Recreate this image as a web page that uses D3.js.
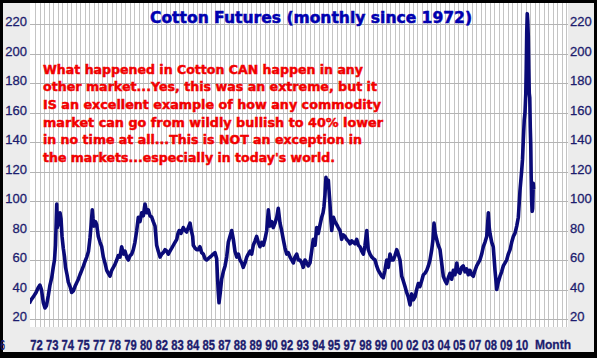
<!DOCTYPE html>
<html>
<head>
<meta charset="utf-8">
<script src="https://cdnjs.cloudflare.com/ajax/libs/d3/7.8.5/d3.min.js"></script>
<style>
  html, body { margin: 0; padding: 0; background: #000; }
  svg { display: block; }
</style>
</head>
<body>
<script>
// cotton futures, cents/lb: [decimal year, price]
const cotton = [
  [1971.44,30.6],[1971.58,33],[1971.76,35],[1971.98,38],[1972.14,41],[1972.29,43],[1972.41,40],[1972.56,31],
  [1972.69,27.5],[1972.81,29],[1972.96,36],[1973.09,43],[1973.23,48],[1973.35,55],[1973.45,60],[1973.53,70],
  [1973.63,98],[1973.67,82],[1973.75,90],[1973.82,84],[1973.89,92],[1973.97,88],[1974.05,76],[1974.15,68],
  [1974.25,62],[1974.33,55],[1974.45,50],[1974.55,45],[1974.69,42],[1974.82,38],[1974.95,39],[1975.08,42],
  [1975.24,45],[1975.35,47],[1975.48,50],[1975.62,53],[1975.76,56],[1975.88,59],[1976.02,62],[1976.16,66],
  [1976.28,75],[1976.37,84],[1976.46,94],[1976.52,88],[1976.60,83],[1976.72,86],[1976.81,84],[1976.94,76],
  [1977.08,72],[1977.21,69],[1977.34,62],[1977.47,58],[1977.61,53],[1977.74,51],[1977.87,49],[1978.01,53],
  [1978.14,55],[1978.27,57],[1978.41,60],[1978.53,63],[1978.67,62],
  [1978.80,69],[1978.95,64],[1979.07,66],[1979.20,62],[1979.33,60],[1979.47,63],[1979.60,64],[1979.73,67],
  [1979.86,72],[1980.00,80],[1980.13,89],[1980.26,86],[1980.40,92],[1980.53,90],[1980.66,98],[1980.80,92],
  [1980.92,94],[1981.06,90],[1981.20,89],[1981.32,86],[1981.46,83],[1981.59,70],[1981.72,66],[1981.86,62],
  [1981.99,64],[1982.12,65],[1982.26,67],[1982.39,66],[1982.52,64],[1982.65,66],[1982.79,68],[1982.92,70],
  [1983.05,72],[1983.19,74],[1983.29,78],[1983.39,80],[1983.53,78],[1983.71,82],[1983.85,80],[1983.98,79],
  [1984.11,82],[1984.25,85],[1984.35,80],[1984.46,76],[1984.51,70],[1984.65,68],[1984.78,67],[1984.91,67],
  [1985.04,69],[1985.18,65],[1985.31,64],[1985.44,61],[1985.58,60],[1985.71,61],[1985.84,62],[1985.98,63],
  [1986.10,64],[1986.24,65],[1986.37,61],[1986.44,48],[1986.50,38],[1986.56,31],
  [1986.66,38],[1986.77,47],[1986.90,52],[1987.04,56],[1987.17,62],[1987.30,72],[1987.43,76],[1987.57,80],
  [1987.70,74],[1987.83,66],[1987.97,62],[1988.10,64],[1988.23,60],[1988.37,58],[1988.49,55],[1988.63,58],
  [1988.77,62],[1988.89,64],[1989.03,66],[1989.16,64],[1989.29,70],[1989.43,73],[1989.56,76],[1989.69,72],
  [1989.82,69],[1989.96,72],[1990.09,70],[1990.22,74],[1990.36,80],[1990.49,94],[1990.62,83],[1990.76,86],
  [1990.88,82],[1991.02,85],[1991.16,89],[1991.28,95],[1991.42,85],[1991.55,80],[1991.68,74],[1991.82,68],
  [1991.95,64],[1992.08,65],[1992.22,62],[1992.35,60],[1992.48,58],[1992.61,62],[1992.75,64],[1992.88,60],
  [1993.01,60],[1993.15,58],[1993.27,55],[1993.41,60],[1993.55,58],[1993.67,56],[1993.81,58],[1993.94,66],
  [1994.07,74],[1994.21,70],[1994.34,82],[1994.47,78],[1994.61,84],[1994.74,89],[1994.85,92],[1994.92,96],
  [1995.00,104],[1995.08,116],[1995.16,110],[1995.27,114],[1995.35,104],[1995.40,98],[1995.48,86],[1995.54,80],
  [1995.67,89],[1995.80,86],[1995.94,84],[1996.06,82],[1996.20,80],[1996.33,74],[1996.46,77],[1996.60,76],
  [1996.73,74],[1996.86,73],[1997.00,71],[1997.13,73],[1997.26,72],[1997.39,71],[1997.53,74],[1997.66,70],
  [1997.79,69],[1997.93,66],[1998.06,64],[1998.19,70],[1998.33,80],[1998.45,67],[1998.59,64],[1998.73,62],
  [1998.85,61],[1998.99,60],[1999.12,56],[1999.25,53],[1999.39,51],[1999.52,49],[1999.65,48],[1999.78,53],
  [1999.92,60],[2000.05,55],[2000.18,64],[2000.32,60],[2000.45,60],[2000.58,63],[2000.72,67],[2000.84,64],
  [2000.98,60],
  [2001.12,49],[2001.24,46],[2001.38,42],[2001.51,38],[2001.64,35],[2001.78,29.5],[2001.91,37],[2002.04,33],
  [2002.18,35],[2002.31,40],[2002.44,44],[2002.57,42],[2002.71,46],[2002.84,50],[2002.97,51],[2003.11,53],
  [2003.24,56],[2003.37,60],[2003.51,67],[2003.61,74],[2003.69,85],[2003.79,78],[2003.90,74],[2004.03,70],
  [2004.17,67],[2004.30,58],[2004.43,49],[2004.57,46],[2004.70,44],[2004.83,48],[2004.96,51],[2005.10,47],
  [2005.23,53],[2005.36,50],[2005.50,58],[2005.63,52],[2005.76,51],[2005.90,55],[2006.02,56],[2006.16,52],
  [2006.29,54],[2006.42,50],[2006.56,53],[2006.69,50],[2006.82,49],[2006.96,53],[2007.09,56],[2007.22,58],
  [2007.35,60],[2007.49,64],[2007.62,69],[2007.75,72],[2007.89,76],[2008.02,92],[2008.09,82],[2008.15,78],
  [2008.29,72],[2008.41,69],[2008.49,60],[2008.55,53],[2008.69,40],[2008.81,45],[2008.95,49],[2009.08,52],
  [2009.21,56],[2009.35,58],[2009.48,60],[2009.61,64],[2009.75,67],[2009.88,72],[2010.01,76],[2010.14,78],
  [2010.28,83],[2010.41,89],[2010.49,100],[2010.54,107],[2010.62,115],[2010.68,121],[2010.74,128],[2010.80,140],
  [2010.88,155],[2010.94,160],[2011.00,172],[2011.04,190],[2011.08,215],[2011.12,227],[2011.16,222],[2011.20,212],
  [2011.24,190],[2011.28,173],[2011.32,170],[2011.36,150],[2011.40,138],[2011.43,118],[2011.47,100],[2011.51,93],
  [2011.55,95],[2011.60,112],[2011.63,108]
];

const yTicks = [20, 40, 60, 80, 100, 120, 140, 160, 180, 200, 220];

const xLabels = ['72','73','74','75','77','78','79','80','82','83','84','85','87','88','89','90',
                 '92','93','94','95','97','98','99','00','02','03','04','05','07','08','09','10'];

const title = 'Cotton Futures (monthly since 1972)';

const notes = [
  'What happened in Cotton CAN happen in any',
  'other market...Yes, this was an extreme, but it',
  'IS an excellent example of how any commodity',
  'market can go from wildly bullish to 40% lower',
  'in no time at all...This is NOT an exception in',
  "the markets...especially in today's world."
];
const noteWidths = [320, 334, 338, 340, 319, 292];

const width = 597, height = 358;
const plot = {left: 30, right: 568, top: 3, bottom: 327};
const navy = '#1c1c6e';

const x = d3.scaleLinear().domain([1972, 2011]).range([36.3, 525.75]);
const y = d3.scaleLinear().domain([40, 220]).range([289.5, 24]);
const xl = d3.scalePoint().domain(xLabels).range([36.5, 522]);
const grid = d3.scaleLinear().domain([0, 118]).range([35, 566]); // vertical grid, one line per step

const svg = d3.select('body').append('svg')
  .attr('width', width)
  .attr('height', height);

svg.append('rect').attr('width', width).attr('height', height).attr('fill', '#000');
svg.append('rect')
  .attr('x', 3).attr('y', 3)
  .attr('width', 591).attr('height', 349)
  .attr('fill', '#ececec');
svg.append('rect')
  .attr('x', plot.left).attr('y', plot.top)
  .attr('width', plot.right - plot.left).attr('height', plot.bottom - plot.top)
  .attr('fill', '#fff');

svg.append('clipPath').attr('id', 'plotclip')
  .append('rect')
  .attr('x', plot.left).attr('y', plot.top)
  .attr('width', plot.right - plot.left).attr('height', plot.bottom - plot.top);

// grid
svg.append('g')
  .selectAll('line')
  .data(d3.range(119))
  .join('line')
  .attr('x1', d => Math.round(grid(d)) + 0.5)
  .attr('x2', d => Math.round(grid(d)) + 0.5)
  .attr('y1', plot.top)
  .attr('y2', plot.bottom)
  .attr('stroke', '#c4c4c4');

svg.append('g')
  .selectAll('line')
  .data(yTicks)
  .join('line')
  .attr('x1', plot.left)
  .attr('x2', plot.right)
  .attr('y1', d => Math.round(y(d)) + 0.5)
  .attr('y2', d => Math.round(y(d)) + 0.5)
  .attr('stroke', '#b4b4b4');

// red annotation, sits over the grid
svg.append('g')
  .selectAll('text')
  .data(notes)
  .join('text')
  .attr('x', 43)
  .attr('y', (d, i) => 73.5 + i * 17.7)
  .attr('textLength', (d, i) => noteWidths[i])
  .attr('lengthAdjust', 'spacingAndGlyphs')
  .attr('font-family', 'DejaVu Sans, Verdana, sans-serif')
  .attr('font-weight', 'bold')
  .attr('font-size', 11.5)
  .attr('fill', '#f20000')
  .attr('stroke', '#f20000')
  .attr('stroke-width', 0.45)
  .text(d => d);

// price line
let line = d3.line()
  .x(d => x(d[0]))
  .y(d => y(d[1]));

svg.append('path')
  .datum(cotton)
  .attr('clip-path', 'url(#plotclip)')
  .attr('d', line)
  .attr('fill', 'none')
  .attr('stroke', '#0a0a78')
  .attr('stroke-width', 3.6)
  .attr('stroke-linejoin', 'round');

// title
svg.append('text')
  .attr('x', 150)
  .attr('y', 22.5)
  .attr('textLength', 322)
  .attr('lengthAdjust', 'spacingAndGlyphs')
  .attr('font-family', 'DejaVu Sans, Verdana, sans-serif')
  .attr('font-weight', 'bold')
  .attr('font-size', 15)
  .attr('fill', '#0000b0')
  .attr('stroke', '#0000b0')
  .attr('stroke-width', 0.5)
  .text(title);

// value axes on both sides
function styleAxis(g) {
  g.select('.domain').remove();
  g.attr('font-family', 'Liberation Sans, Arial, sans-serif')
   .attr('font-size', 13);
  g.selectAll('text')
   .attr('fill', navy)
   .attr('stroke', navy)
   .attr('stroke-width', 0.3);
}

svg.append('g')
  .attr('transform', 'translate(27,-2.5)')
  .call(d3.axisLeft(y).tickValues(yTicks).tickSize(0).tickPadding(0))
  .call(styleAxis);

svg.append('g')
  .attr('transform', 'translate(570,-2.5)')
  .call(d3.axisRight(y).tickValues(yTicks).tickSize(0).tickPadding(0))
  .call(styleAxis);

// year labels along the bottom
svg.append('g')
  .selectAll('text')
  .data(xLabels)
  .join('text')
  .attr('x', d => xl(d) - 6.25)
  .attr('y', 350)
  .attr('textLength', 12.5)
  .attr('lengthAdjust', 'spacingAndGlyphs')
  .attr('font-family', 'Liberation Sans Narrow, Arial Narrow, Liberation Sans, sans-serif')
  .attr('font-weight', 'bold')
  .attr('font-size', 15)
  .attr('fill', navy)
  .attr('stroke', navy)
  .attr('stroke-width', 0.35)
  .text(d => d);

// leftover label squeezed against the left border
svg.append('text')
  .attr('x', 0.5)
  .attr('y', 350)
  .attr('textLength', 4.5)
  .attr('lengthAdjust', 'spacingAndGlyphs')
  .attr('font-family', 'Liberation Sans Narrow, Arial Narrow, Liberation Sans, sans-serif')
  .attr('font-weight', 'bold')
  .attr('font-size', 15)
  .attr('fill', navy)
  .text('6');

svg.append('text')
  .attr('x', 535)
  .attr('y', 349)
  .attr('textLength', 36)
  .attr('lengthAdjust', 'spacingAndGlyphs')
  .attr('font-family', 'Liberation Sans, Arial, sans-serif')
  .attr('font-weight', 'bold')
  .attr('font-size', 13.5)
  .attr('fill', navy)
  .attr('stroke', navy)
  .attr('stroke-width', 0.3)
  .text('Month');
</script>
</body>
</html>
